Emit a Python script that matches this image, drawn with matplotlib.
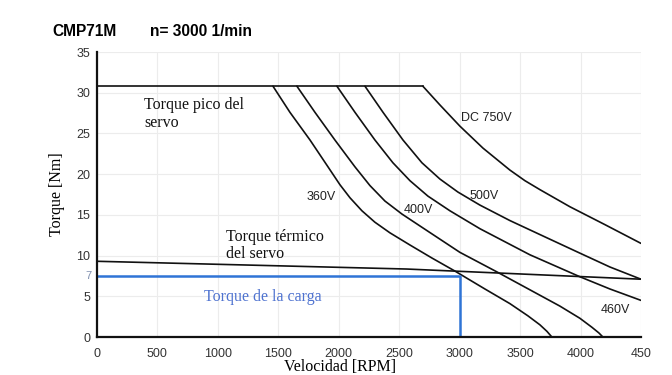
import matplotlib
matplotlib.use("Agg")
import matplotlib.pyplot as plt

# ---------------- data ----------------
peak_torque = 30.8
peak_end_rpm = 2696

thermal_rpm = [0, 2560, 4500]
thermal_torque = [9.3, 8.35, 7.1]

load_torque = 7.5
load_rpm = 3000

c360_rpm = [1456, 1596, 1762, 1911, 2010, 2093, 2192, 2299, 2423, 2589, 2771, 2961,
            3209, 3416, 3565, 3664, 3722, 3763]
c360_tq = [30.8, 27.6, 24.2, 20.9, 18.7, 17.1, 15.5, 14.1, 12.8, 11.3, 9.7, 8.1,
           5.9, 4.1, 2.6, 1.5, 0.7, 0.0]

c400_rpm = [1654, 1803, 1968, 2134, 2258, 2382, 2523, 2696, 3002, 3308, 3581, 3829,
            3995, 4094, 4152, 4185]
c400_tq = [30.8, 27.6, 24.2, 20.9, 18.6, 16.7, 15.1, 13.4, 10.4, 8.0, 5.8, 3.8,
           2.3, 1.2, 0.5, 0.0]

c460_rpm = [1985, 2134, 2299, 2448, 2589, 2738, 2920, 3168, 3581, 3995, 4243, 4500]
c460_tq = [30.8, 27.6, 24.2, 21.4, 19.2, 17.3, 15.5, 13.3, 10.1, 7.4, 5.9, 4.5]

c500_rpm = [2217, 2366, 2531, 2688, 2837, 2986, 3168, 3416, 3705, 3995, 4243, 4500]
c500_tq = [30.8, 27.6, 24.2, 21.4, 19.4, 17.8, 16.2, 14.3, 12.3, 10.3, 8.6, 7.1]

c750_rpm = [2696, 2837, 3002, 3193, 3416, 3540, 3664, 3912, 4202, 4500]
c750_tq = [30.8, 28.5, 25.9, 23.2, 20.5, 19.2, 18.1, 16.0, 13.8, 11.5]

x_ticks = [0, 500, 1000, 1500, 2000, 2500, 3000, 3500, 4000, 4500]
x_tick_labels = ["0", "500", "1000", "1500", "2000", "2500", "3000", "3500", "4000", "450"]
y_ticks = [0, 5, 10, 15, 20, 25, 30, 35]

# ---------------- figure ----------------
fig = plt.figure(figsize=(6.72, 3.75), dpi=100)
ax = fig.add_axes([0.1443, 0.1013, 0.8095, 0.76])

sans = "Liberation Sans"
serif = "Liberation Serif"
lw = 1.2
blk = "#111111"

ax.set_xlim(0, 4500)
ax.set_ylim(0, 35)

ax.set_xticks(x_ticks)
ax.set_xticklabels(x_tick_labels, fontfamily=sans, fontsize=9, color="#333333")
ax.set_yticks(y_ticks)
ax.set_yticklabels([str(v) for v in y_ticks], fontfamily=sans, fontsize=9, color="#333333")
ax.tick_params(axis="x", length=0, pad=8)
ax.tick_params(axis="y", length=0, pad=5)

ax.grid(True, color="#ececec", linewidth=0.8)
ax.set_axisbelow(True)
for s in ["top", "right"]:
    ax.spines[s].set_visible(False)
for s in ["left", "bottom"]:
    ax.spines[s].set_linewidth(1.6)
    ax.spines[s].set_color(blk)

# peak torque line
ax.plot([0, peak_end_rpm], [peak_torque, peak_torque], color=blk, lw=lw)
# thermal torque line
ax.plot(thermal_rpm, thermal_torque, color=blk, lw=lw)
# voltage curves
for r, t in [(c360_rpm, c360_tq), (c400_rpm, c400_tq), (c460_rpm, c460_tq),
             (c500_rpm, c500_tq), (c750_rpm, c750_tq)]:
    ax.plot(r, t, color=blk, lw=lw, solid_joinstyle="round", solid_capstyle="round")

# load torque
blue = "#2f74d6"
ax.plot([0, load_rpm, load_rpm], [load_torque, load_torque, 0], color=blue, lw=1.8)
ax.text(-45, load_torque, "7", ha="right", va="center", fontfamily=sans,
        fontsize=8, color="#8090b0")

# annotations
ax.text(390, 29.5, "Torque pico del\nservo", fontfamily=serif, fontsize=11.5,
        va="top", ha="left", color=blk, linespacing=1.15)
ax.text(1065, 13.3, "Torque térmico\ndel servo", fontfamily=serif, fontsize=11.5,
        va="top", ha="left", color=blk, linespacing=1.1)
ax.text(885, 4.9, "Torque de la carga", fontfamily=serif, fontsize=11.5,
        va="center", ha="left", color="#4f73d0")

lab = dict(fontfamily=sans, fontsize=9, ha="left", va="center", color="#222222")
ax.text(1730, 17.2, "360V", **lab)
ax.text(2540, 15.6, "400V", **lab)
ax.text(3085, 17.3, "500V", **lab)
ax.text(3010, 26.9, "DC 750V", **lab)
ax.text(4170, 3.3, "460V", **lab)

ax.set_ylabel("Torque [Nm]", fontfamily=serif, fontsize=11.5, labelpad=8)
fig.text(340 / 672, 1 - 367 / 375, "Velocidad [RPM]", fontfamily=serif,
         fontsize=11.5, ha="center", va="center")

fig.text(52 / 672, 1 - 32 / 375, "CMP71M", fontfamily=sans, fontweight="bold",
         fontsize=11.2, va="center", ha="left")
fig.text(150 / 672, 1 - 32 / 375, "n= 3000 1/min", fontfamily=sans, fontweight="bold",
         fontsize=11.2, va="center", ha="left")

fig.savefig("out.png", dpi=100)
